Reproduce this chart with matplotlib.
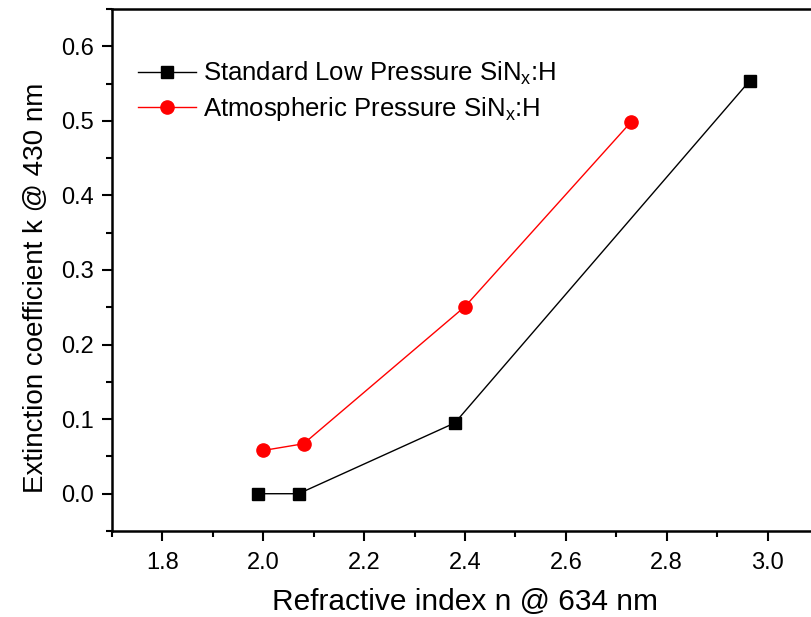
import matplotlib
matplotlib.use("Agg")
import matplotlib.pyplot as plt
from matplotlib.ticker import MultipleLocator

plt.rcParams['font.family'] = ['Liberation Sans', 'DejaVu Sans']
plt.rcParams['mathtext.fontset'] = 'custom'
plt.rcParams['mathtext.rm'] = 'Liberation Sans'
plt.rcParams['mathtext.it'] = 'Liberation Sans'

# Data
std_n = [1.99, 2.07, 2.38, 2.965]
std_k = [0.0, 0.0, 0.095, 0.554]
atm_n = [2.0, 2.08, 2.40, 2.73]
atm_k = [0.058, 0.067, 0.251, 0.499]
std_label = r"Standard Low Pressure SiN$_\mathregular{x}$:H"
atm_label = r"Atmospheric Pressure SiN$_\mathregular{x}$:H"

fig = plt.figure(figsize=(8.11, 6.17), dpi=100)
ax = fig.add_axes([112/811, 86/617, (818-112)/811, (531-9)/617])

ax.plot(std_n, std_k, color='black', lw=1.0, marker='s', ms=8.3,
        mfc='black', mec='black', label=std_label)
ax.plot(atm_n, atm_k, color='red', lw=1.0, marker='o', ms=9.5,
        mfc='red', mec='red', label=atm_label)

ax.set_xlim(1.7, 3.1)
ax.set_ylim(-0.05, 0.65)
ax.xaxis.set_major_locator(MultipleLocator(0.2))
ax.xaxis.set_minor_locator(MultipleLocator(0.1))
ax.yaxis.set_major_locator(MultipleLocator(0.1))
ax.yaxis.set_minor_locator(MultipleLocator(0.05))
ax.xaxis.set_major_formatter(plt.FuncFormatter(lambda v, p: f"{v:.1f}"))
ax.yaxis.set_major_formatter(plt.FuncFormatter(lambda v, p: f"{v:.1f}"))

for s in ax.spines.values():
    s.set_linewidth(1.8)
ax.tick_params(which='major', direction='out', length=7.2, width=1.5, labelsize=17)
ax.tick_params(axis='x', which='major', pad=8.0)
ax.tick_params(axis='y', which='major', pad=5.8)
ax.tick_params(which='minor', direction='out', length=4.3, width=1.5)
ax.tick_params(top=False, right=False, which='both')

ax.set_xlabel("Refractive index n @ 634 nm", fontsize=21.5)
ax.xaxis.label.set_va('baseline')
ax.xaxis.set_label_coords(0.5, (7 - 86) / 522)
ax.set_ylabel("Extinction coefficient k @ 430 nm", fontsize=20)
ax.yaxis.label.set_va('baseline')
ax.yaxis.set_label_coords((43 - 112) / 706, (617 - 287.5 - 86) / 522)

leg = ax.legend(loc='upper left', frameon=False, fontsize=18.5,
                bbox_to_anchor=(0.0, 0.951), handlelength=2.26,
                labelspacing=0.3, handletextpad=0.3, borderaxespad=0.6,
                borderpad=0.4)

fig.savefig("out.png", dpi=100)
